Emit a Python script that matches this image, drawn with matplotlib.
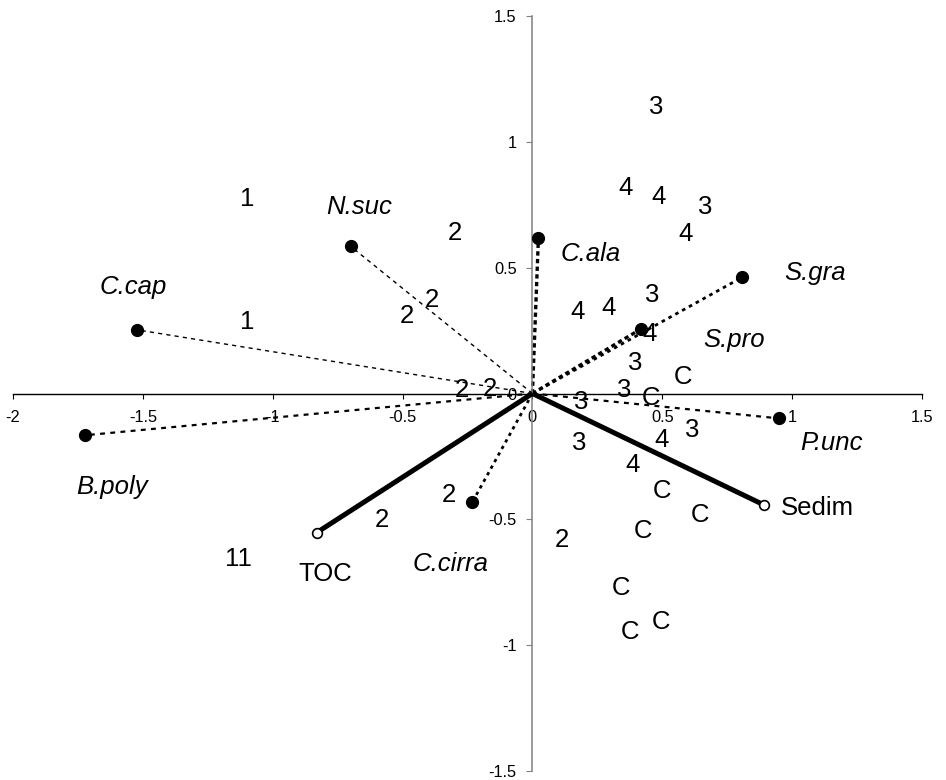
import matplotlib

matplotlib.use("Agg")
import matplotlib.pyplot as plt
import numpy as np

plt.rcParams["font.family"] = ["Liberation Sans", "DejaVu Sans"]

# species scores (filled dots, dotted vectors)
SPECIES = ["C.cap", "N.suc", "B.poly", "C.ala", "S.gra", "S.pro", "P.unc", "C.cirra"]
SPECIES_X = [-1.523, -0.700, -1.723, 0.023, 0.808, 0.419, 0.950, -0.231]
SPECIES_Y = [0.253, 0.585, -0.166, 0.617, 0.462, 0.257, -0.099, -0.431]

# environmental variables (open circles, solid vectors)
ENV = ["TOC", "Sedim"]
ENV_X = [-0.831, 0.892]
ENV_Y = [-0.553, -0.443]

# site scores, plotted as their group label
SITE_LABELS = ["3", "4", "4", "3", "4", "4", "4", "3", "4", "3", "C", "3", "C", "3",
               "3", "4", "3", "4", "C", "C", "C", "2", "C", "C", "C", "2", "2", "11",
               "1", "2", "1", "2", "2", "2", "2"]
SITE_X = [0.477, 0.358, 0.485, 0.665, 0.588, 0.173, 0.292, 0.462, 0.450, 0.396, 0.581,
          0.354, 0.458, 0.188, 0.615, 0.496, 0.181, 0.385, 0.500, 0.646, 0.427, 0.115,
          0.342, 0.496, 0.377, -0.323, -0.581, -1.131, -1.100, -0.300, -1.100, -0.388,
          -0.485, -0.273, -0.165]
SITE_Y = [1.138, 0.818, 0.779, 0.743, 0.632, 0.324, 0.340, 0.391, 0.237, 0.123, 0.067,
          0.012, -0.016, -0.032, -0.146, -0.186, -0.198, -0.285, -0.387, -0.482, -0.545,
          -0.581, -0.771, -0.909, -0.949, -0.403, -0.502, -0.656, 0.771, 0.636, 0.285,
          0.372, 0.308, 0.012, 0.016]

X_TICKS = [-2, -1.5, -1, -0.5, 0, 0.5, 1, 1.5]
Y_TICKS = [-1.5, -1, -0.5, 0, 0.5, 1, 1.5]

# styles
LINE_STYLE = {
    "C.cap": (1.0, (3, 3)),
    "N.suc": (1.0, (3, 3)),
    "B.poly": (1.6, (2.2, 2.4)),
    "C.ala": (2.4, (1.3, 1.0)),
    "S.gra": (2.0, (1.3, 1.5)),
    "S.pro": (2.4, (1.3, 1.0)),
    "P.unc": (1.6, (2.2, 2.4)),
    "C.cirra": (2.0, (1.2, 1.5)),
}
LABEL_OFFSET = {
    "C.cap": (-4, 36), "N.suc": (9, 32), "B.poly": (27, -59), "C.ala": (52, -23),
    "S.gra": (73, -3), "S.pro": (93, -18), "P.unc": (52, -32), "C.cirra": (-22, -69),
}
ENV_OFFSET = {"TOC": ((9, -48), "center"), "Sedim": ((17, -10), "left")}
BIG = 18.5

fig = plt.figure(figsize=(9.46, 7.80), dpi=100)
ax = fig.add_axes([13 / 946, 9 / 780, 909 / 946, 755 / 780])
ax.set_xlim(-2, 1.5)
ax.set_ylim(-1.5, 1.5)

for sp in ["top", "right"]:
    ax.spines[sp].set_visible(False)
ax.spines["left"].set_position(("data", 0))
ax.spines["bottom"].set_position(("data", 0))
ax.spines["left"].set_color("#808080")
ax.spines["left"].set_linewidth(1.1)
ax.spines["bottom"].set_color("black")
ax.spines["bottom"].set_linewidth(1.0)
ax.set_xticks(X_TICKS)
ax.set_xticklabels([f"{v:g}" for v in X_TICKS])
ax.set_yticks(Y_TICKS)
ax.set_yticklabels([f"{v:g}" for v in Y_TICKS])
ax.tick_params(axis="x", direction="out", length=3.6, width=0.8, pad=8, labelsize=11.8, colors="black")
ax.tick_params(axis="y", direction="out", length=4.3, width=0.8, pad=7, labelsize=11.8,
               color="#808080", labelcolor="black")
ax.patch.set_visible(False)

# species vectors
for name, x, y in zip(SPECIES, SPECIES_X, SPECIES_Y):
    lw, dash = LINE_STYLE[name]
    ax.plot([0, x], [0, y], color="black", lw=lw, linestyle=(0, dash), dash_capstyle="butt",
            clip_on=False, zorder=2)

# environmental vectors
for x, y in zip(ENV_X, ENV_Y):
    ax.plot([0, x], [0, y], color="black", lw=3.6, solid_capstyle="butt", clip_on=False, zorder=3)
ax.plot(ENV_X, ENV_Y, linestyle="none", marker="o", markersize=7, markerfacecolor="white",
        markeredgecolor="black", markeredgewidth=1.2, zorder=4, clip_on=False)
ax.plot(SPECIES_X, SPECIES_Y, linestyle="none", marker="o", markersize=8.5, color="black",
        zorder=4, clip_on=False)

# labels
for name, x, y in zip(SPECIES, SPECIES_X, SPECIES_Y):
    ax.annotate(name, (x, y), xytext=LABEL_OFFSET[name], textcoords="offset pixels",
                ha="center", va="baseline", fontsize=BIG, fontstyle="italic", zorder=5)
for name, x, y in zip(ENV, ENV_X, ENV_Y):
    off, ha = ENV_OFFSET[name]
    ax.annotate(name, (x, y), xytext=off, textcoords="offset pixels",
                ha=ha, va="baseline", fontsize=BIG, zorder=5)
for lab, x, y in zip(SITE_LABELS, SITE_X, SITE_Y):
    ax.text(x, y, lab, ha="center", va="center", fontsize=BIG, zorder=5)

fig.savefig("out.png", dpi=100, facecolor="white")
